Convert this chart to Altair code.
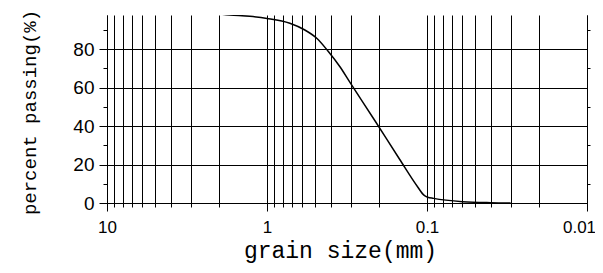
import altair as alt
import pandas as pd

# grain size (mm) and percent passing
grain_size = [3.0, 1.70, 1.28, 1.0, 0.72, 0.58, 0.487, 0.416, 0.350, 0.303, 0.211, 0.148,
              0.114, 0.105, 0.099, 0.091, 0.060, 0.040, 0.030]
passing = [100.0, 97.7, 97.0, 95.9, 93.4, 89.9, 85.5, 79.0, 70.8, 62.7, 42.6, 22.6,
           8.2, 4.2, 3.0, 2.4, 0.7, 0.15, 0.0]

major_x = [10, 1, 0.1, 0.01]
grid_x = [10, 9, 8, 7, 6, 5, 4, 3, 2,
          1, 0.9, 0.8, 0.7, 0.6, 0.5, 0.4, 0.3, 0.2,
          0.1, 0.09, 0.08, 0.07, 0.06, 0.05, 0.04, 0.03, 0.02, 0.01]
major_y = [0, 20, 40, 60, 80]
minor_y = [10, 30, 50, 70, 90]

df = pd.DataFrame({"d": grain_size, "p": passing, "i": list(range(len(grain_size)))})

xs = alt.Scale(type="log", domain=[0.01, 10], reverse=True)
ys = alt.Scale(domain=[0, 97.7], nice=False, zero=True)

base = alt.Chart(df)

grid_layer = base.mark_line(opacity=0, clip=True).encode(
    x=alt.X("d:Q", scale=xs, axis=alt.Axis(
        orient="bottom", values=grid_x, grid=True, gridColor="black", gridOpacity=1,
        gridWidth=1, ticks=True, tickSize=4, tickColor="black", labels=False,
        domain=False, title=None)),
    y=alt.Y("p:Q", scale=ys, axis=alt.Axis(
        orient="left", values=minor_y, grid=False, ticks=True, tickSize=4,
        tickColor="black", labels=False, domain=False, title=None)),
    order="i:Q",
)

main_layer = base.mark_line(color="black", strokeWidth=1.5, clip=True, interpolate="monotone").encode(
    x=alt.X("d:Q", scale=xs, axis=alt.Axis(
        orient="bottom", values=major_x, format="~g", grid=False, ticks=True, tickSize=8,
        tickColor="black", domain=True, domainColor="black", labelFont="Liberation Sans",
        labelFontSize=17, labelColor="black", labelPadding=8, labelFlush=False,
        labelOffset=alt.ExprRef("datum.value < 0.05 ? -8 : 0"),
        title="grain size(mm)", titleFont="Liberation Mono", titleFontSize=23,
        titleFontWeight="normal", titleColor="black", titleX=233, titleY=54,
        titleBaseline="alphabetic", titleAlign="center")),
    y=alt.Y("p:Q", scale=ys, axis=alt.Axis(
        orient="left", values=major_y, grid=True, gridColor="black", gridOpacity=1,
        gridWidth=1, ticks=True, tickSize=8, tickColor="black", domain=True,
        domainColor="black", labelFont="Liberation Sans", labelFontSize=19,
        labelColor="black", labelPadding=5, labelFlush=False,
        title="percent passing(%)", titleFont="Liberation Mono", titleFontSize=19,
        titleFontWeight="normal", titleColor="black", titleX=-72, titleY=97,
        titleAngle=270, titleBaseline="alphabetic", titleAlign="center")),
    order="i:Q",
)

right_layer = base.mark_line(opacity=0, clip=True).encode(
    x=alt.X("d:Q", scale=xs, axis=None),
    y=alt.Y("p:Q", scale=ys, axis=alt.Axis(
        orient="right", values=minor_y, grid=False, ticks=True, tickSize=3,
        tickColor="black", labels=False, domain=True, domainColor="black", title=None)),
    order="i:Q",
)

chart = alt.layer(grid_layer, main_layer, right_layer).resolve_axis(
    x="independent", y="independent"
).properties(
    width=480, height=188,
    padding={"left": 99, "top": 7, "right": 8, "bottom": 62},
    autosize=alt.AutoSizeParams(type="none"),
    background="white",
).configure_view(stroke=None)

chart.save("out.html", embed_options={"renderer": "svg", "actions": False})
